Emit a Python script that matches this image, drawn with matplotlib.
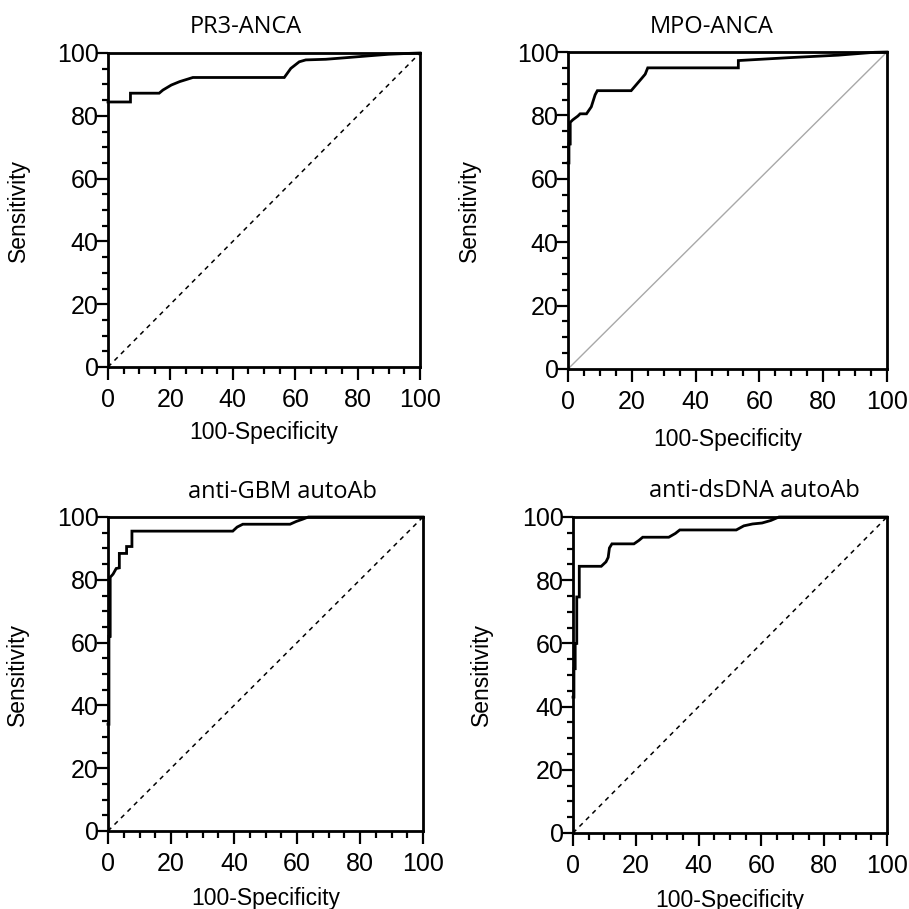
import matplotlib
matplotlib.use("Agg")
import matplotlib.pyplot as plt
from matplotlib.ticker import MultipleLocator

plt.rcParams["font.family"] = ["Liberation Sans", "DejaVu Sans"]
TITLE_FONT = ["Open Sans", "DejaVu Sans"]

# ROC curves: x = 100-Specificity, y = Sensitivity
pr3_fpr = [0, 7.2, 7.2, 16.4, 17.6, 20.3, 23.0, 25.6, 27.2, 56.5, 58.6, 61.3, 63.4, 69.8, 76.2, 83.6, 90.0, 97.0, 100]
pr3_sens = [84.4, 84.4, 87.2, 87.2, 88.2, 89.8, 90.9, 91.7, 92.2, 92.2, 95.1, 97.2, 97.8, 98.0, 98.5, 99.1, 99.6, 99.9, 100]

mpo_fpr = [0, 0.3, 0.3, 0.7, 0.7, 1.5, 3.1, 3.8, 5.8, 7.3, 8.5, 9.2, 19.8, 21.5, 23.2, 24.2, 25.0, 53.4, 53.4,
           69.0, 84.7, 96.0, 100]
mpo_sens = [65, 65, 71, 71, 77.8, 78.6, 79.8, 80.5, 80.5, 82.7, 86.5, 87.8, 87.8, 89.8, 91.8, 93.0, 95.0, 95.0, 97.3,
            98.2, 99.0, 99.9, 100]

gbm_fpr = [0, 0.3, 0.3, 0.7, 0.7, 1.6, 2.6, 3.6, 3.6, 5.9, 5.9, 7.6, 7.6, 39.6, 41.0, 42.8, 57.8, 59.8, 61.8, 63.6, 100]
gbm_sens = [34, 34, 62, 62, 80.8, 81.8, 83.6, 83.8, 88.4, 88.4, 90.6, 90.6, 95.5, 95.5, 96.8, 97.7, 97.7, 98.6, 99.3,
            100, 100]

ds_fpr = [0, 0.3, 0.3, 0.7, 0.7, 1.2, 1.2, 2.0, 2.0, 9.0, 10.5, 11.2, 11.6, 12.4, 19.4, 21.0, 22.2, 30.5, 32.6, 34.0,
          52.0, 54.4, 57.2, 60.2, 63.0, 65.6, 100]
ds_sens = [43, 43, 52, 52, 60, 60, 74.7, 74.7, 84.4, 84.4, 85.8, 87.2, 90.2, 91.5, 91.5, 92.6, 93.6, 93.6, 94.8, 95.9,
           95.9, 97.2, 97.8, 98.1, 98.9, 100, 100]

titles = ["PR3-ANCA", "MPO-ANCA", "anti-GBM autoAb", "anti-dsDNA autoAb"]
ticks = [0, 20, 40, 60, 80, 100]

W = 909.0


def px_rect(left, top, right, bottom):
    return [left / W, 1 - bottom / W, (right - left) / W, (bottom - top) / W]


fig = plt.figure(figsize=(9.09, 9.09), dpi=100)

panels = [
    # axes rect (px), title pos (px), ylabel x (axes frac), xlabel y (axes frac), curve, diagonal style
    (px_rect(108, 53, 420, 367), (246, 33), -0.25, -0.172, pr3_fpr, pr3_sens, "dashed"),
    (px_rect(568, 52, 887, 369), (712, 33), -0.272, -0.186, mpo_fpr, mpo_sens, "solid"),
    (px_rect(108, 517, 423, 831), (283, 498), -0.25, -0.178, gbm_fpr, gbm_sens, "dashed"),
    (px_rect(573, 517, 887, 833), (754, 497), -0.255, -0.178, ds_fpr, ds_sens, "dashed"),
]

for (rect, tpos, ylab_x, xlab_y, fpr, sens, diag), title in zip(panels, titles):
    ax = fig.add_axes(rect)

    if diag == "dashed":
        ax.plot([0, 100], [0, 100], color="black", lw=1.1, dashes=(3, 3))
    else:
        ax.plot([0, 100], [0, 100], color="#a8a8a8", lw=1.0)

    ax.plot(fpr, sens, color="black", lw=2.0, clip_on=False, solid_joinstyle="miter")

    ax.set_xlim(0, 100)
    ax.set_ylim(0, 100)
    ax.set_xticks(ticks)
    ax.set_yticks(ticks)
    ax.xaxis.set_minor_locator(MultipleLocator(5))
    ax.yaxis.set_minor_locator(MultipleLocator(5))
    ax.tick_params(which="both", direction="out", top=False, right=False, width=1.6)
    ax.tick_params(axis="x", which="major", length=9, pad=6, labelsize=18)
    ax.tick_params(axis="y", which="major", length=7.7, pad=-1, labelsize=18)
    ax.tick_params(axis="x", which="minor", length=4.8)
    ax.tick_params(axis="y", which="minor", length=4)
    for s in ax.spines.values():
        s.set_linewidth(2.0)

    ax.set_ylabel("Sensitivity", fontsize=16.5)
    ax.yaxis.set_label_coords(ylab_x, 0.5)
    ax.set_xlabel("100-Specificity", fontsize=16.5)
    ax.xaxis.set_label_coords(0.5, xlab_y)

    fig.text(tpos[0] / W, 1 - tpos[1] / W, title, family=TITLE_FONT, fontsize=17,
             ha="center", va="baseline")

fig.savefig("out.png", dpi=100)
